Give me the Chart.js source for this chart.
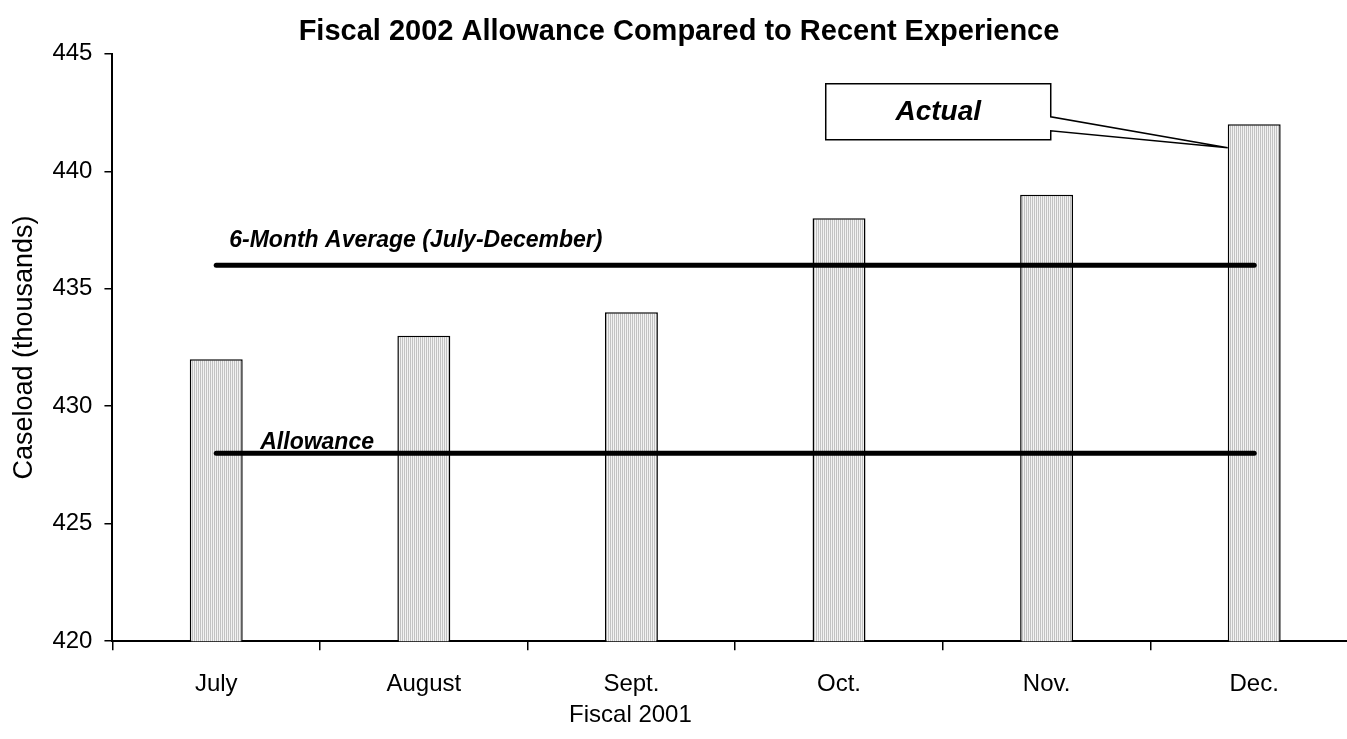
<!DOCTYPE html>
<html>
<head>
<meta charset="utf-8">
<script src="https://cdn.jsdelivr.net/npm/chart.js@4/dist/chart.umd.min.js"></script>
<style>
  html, body { margin: 0; padding: 0; background: #fff; overflow: hidden; }
  #wrap { width: 1360px; height: 739px; }
</style>
</head>
<body>
<div id="wrap"><canvas id="caseChart"></canvas></div>
<script>
const months = ["July", "August", "Sept.", "Oct.", "Nov.", "Dec."];
const actual = [432, 433, 434, 438, 439, 442];
const average = [436, 436, 436, 436, 436, 436];
const allowance = [428, 428, 428, 428, 428, 428];
const yTicks = [420, 425, 430, 435, 440, 445];

const FONT = "Arial, 'Liberation Sans', sans-serif";

// fine vertical hatching for the bars
const hatch = (() => {
  const c = document.createElement("canvas");
  c.width = 2;
  c.height = 2;
  const g = c.getContext("2d");
  g.fillStyle = "#f2f2f2";
  g.fillRect(0, 0, 2, 2);
  g.fillStyle = "#c2c2c2";
  g.fillRect(0, 0, 1, 2);
  return g.createPattern(c, "repeat");
})();

// line labels, the "Actual" callout and the x axis title
const overlay = {
  id: "overlay",
  afterDatasetsDraw(chart) {
    const { ctx, chartArea } = chart;
    const y = chart.scales.y;
    ctx.save();
    ctx.fillStyle = "#000";
    ctx.textBaseline = "alphabetic";
    ctx.textAlign = "left";
    ctx.font = "italic bold 23px " + FONT;

    const avgPt = chart.getDatasetMeta(1).data[0];
    ctx.fillText("6-Month Average (July-December)", avgPt.x + 13, avgPt.y - 18);

    const allowPt = chart.getDatasetMeta(2).data[0];
    ctx.fillText("Allowance", allowPt.x + 44, allowPt.y - 4);

    // callout pointing at the December bar
    const bar = chart.getDatasetMeta(0).data[5];
    const tipX = bar.x - bar.width / 2;
    const tipY = y.getPixelForValue(441);
    const right = tipX - 177;
    const left = right - 225;
    const top = tipY - 64;
    const bottom = tipY - 8;
    ctx.beginPath();
    ctx.moveTo(left, top);
    ctx.lineTo(right, top);
    ctx.lineTo(right, tipY - 31);
    ctx.lineTo(tipX, tipY);
    ctx.lineTo(right, tipY - 17);
    ctx.lineTo(right, bottom);
    ctx.lineTo(left, bottom);
    ctx.closePath();
    ctx.fillStyle = "#fff";
    ctx.fill();
    ctx.lineWidth = 1.5;
    ctx.strokeStyle = "#000";
    ctx.stroke();

    ctx.fillStyle = "#000";
    ctx.font = "italic bold 28px " + FONT;
    ctx.textAlign = "center";
    ctx.textBaseline = "middle";
    ctx.fillText("Actual", (left + right) / 2, (top + bottom) / 2);

    ctx.font = "24px " + FONT;
    ctx.fillText("Fiscal 2001", chartArea.left + 518, chartArea.bottom + 74);
    ctx.restore();
  },
};

new Chart(document.getElementById("caseChart"), {
  data: {
    labels: months,
    datasets: [
      {
        type: "bar",
        data: actual,
        backgroundColor: hatch,
        borderColor: "#000",
        borderWidth: 1.5,
        categoryPercentage: 1,
        barPercentage: 0.255,
        order: 2,
      },
      {
        type: "line",
        data: average,
        borderColor: "#000",
        borderWidth: 5,
        borderCapStyle: "round",
        pointRadius: 0,
        order: 1,
      },
      {
        type: "line",
        data: allowance,
        borderColor: "#000",
        borderWidth: 5,
        borderCapStyle: "round",
        pointRadius: 0,
        order: 1,
      },
    ],
  },
  options: {
    responsive: true,
    maintainAspectRatio: false,
    animation: false,
    layout: { padding: { left: 0, right: 2, top: 0, bottom: 20 } },
    plugins: {
      legend: { display: false },
      tooltip: { enabled: false },
      title: {
        display: true,
        text: "Fiscal 2002 Allowance Compared to Recent Experience",
        color: "#000",
        font: { family: FONT, size: 29, weight: "bold" },
        padding: { top: 15, bottom: 4 },
      },
    },
    scales: {
      x: {
        offset: true,
        grid: {
          offset: true,
          drawOnChartArea: false,
          drawTicks: true,
          tickLength: 9,
          color: "#000",
          lineWidth: 1.5,
        },
        border: { display: true, color: "#000", width: 2 },
        ticks: { color: "#000", font: { family: FONT, size: 24 }, padding: 20 },
      },
      y: {
        min: 420,
        max: 445,
        afterBuildTicks(scale) {
          scale.ticks = yTicks.map((v) => ({ value: v }));
        },
        grid: {
          drawOnChartArea: false,
          tickLength: 8,
          color: "#000",
          lineWidth: 1.5,
        },
        border: { display: true, color: "#000", width: 2 },
        ticks: { color: "#000", font: { family: FONT, size: 24 }, padding: 12 },
        title: {
          display: true,
          text: "Caseload (thousands)",
          color: "#000",
          font: { family: FONT, size: 27 },
          padding: { top: 8, bottom: 0 },
        },
      },
    },
  },
  plugins: [overlay],
});
</script>
</body>
</html>
